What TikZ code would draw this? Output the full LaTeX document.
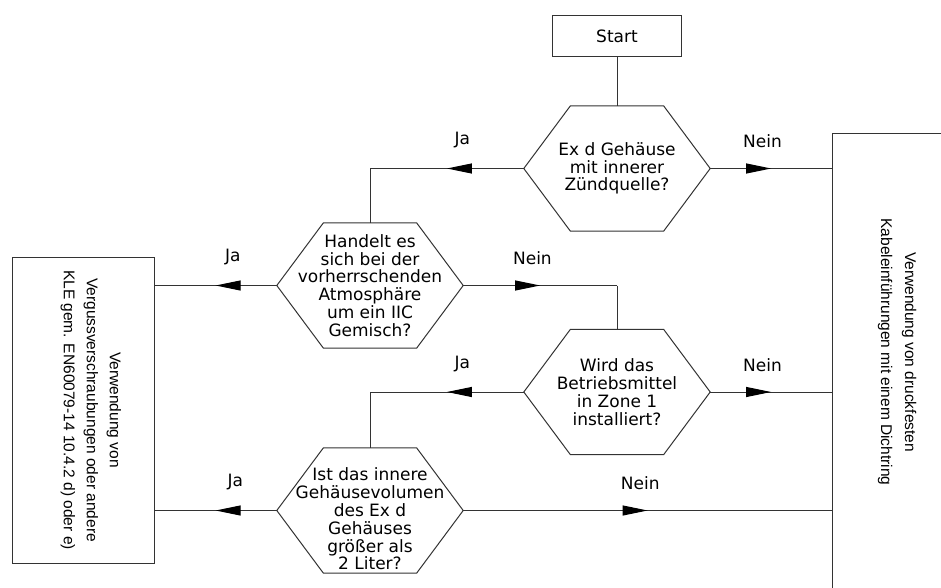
\documentclass[tikz,border=0pt]{standalone}
\usepackage{fontspec}
\setmainfont{DejaVu Sans}
\newfontfamily\boxfont{Liberation Sans}
\usetikzlibrary{calc,arrows.meta,decorations.markings}

\tikzset{
  flowline/.style={draw=black!80, line width=1pt},
  midtip/.style={postaction={decorate}, decoration={markings,
      mark=at position 0.5 with {\arrow{Triangle[length=25pt,width=10pt,color=black]}}}},
  box/.style={draw=black!80, line width=1pt, inner sep=0pt},
  decision/.style={minimum width=186pt, minimum height=125pt, inner sep=0pt, align=center,
      font=\fontsize{17}{17.8}\selectfont},
  boxtext/.style={rotate=-90, align=center, inner sep=0pt},
  answer/.style={above=20pt, inner sep=0pt, font=\fontsize{17}{17.8}\selectfont}
}

% hexagon round a decision node
\newcommand{\hexframe}[1]{%
  \draw[flowline] (#1.west) -- ($(#1.north west)!0.25!(#1.north east)$)
    -- ($(#1.north west)!0.75!(#1.north east)$) -- (#1.east)
    -- ($(#1.south west)!0.75!(#1.south east)$)
    -- ($(#1.south west)!0.25!(#1.south east)$) -- cycle;}

\begin{document}
\begin{tikzpicture}[x=1pt,y=-1pt]
  \useasboundingbox (0,0) rectangle (941,588);
  \clip (0,0) rectangle (941,588);
  \fill[white] (0,0) rectangle (941,588);

  \node[box, minimum width=129pt, minimum height=41pt, font=\fontsize{17}{17.8}\selectfont] (start) at (617,36.5) {Start};

  \node[decision] (q1) at (617,168.5) {Ex d Gehäuse\\mit innerer\\Zündquelle?};
  \node[decision] (q2) at (370,285.5) {Handelt es\\sich bei der\\vorherrschenden\\Atmosphäre\\um ein IIC\\Gemisch?};
  \node[decision] (q3) at (617,392) {Wird das\\Betriebsmittel\\in Zone 1\\installiert?};
  \node[decision] (q4) at (370,510.5) {\rule{0pt}{30pt}Ist das innere\\Gehäusevolumen\\des Ex d\\Gehäuses\\größer als\\2 Liter?};
  \hexframe{q1}
  \hexframe{q2}
  \hexframe{q3}
  \hexframe{q4}

  \node[box, minimum width=142pt, minimum height=306pt] (lbox) at (83,410) {};
  \node[boxtext, font=\boxfont\fontsize{15.5}{23}\selectfont] (ltext) at (91,410) {Verwendung von\\Vergussverschraubungen oder andere\\KLE gem. EN60079-14 10.4.2 d) oder e)};
  \node[box, minimum width=130pt, minimum height=480pt, anchor=north west] (rbox) at (832,133) {};
  \node[boxtext, font=\boxfont\fontsize{15.5}{24}\selectfont] (rtext) at (897,352) {Verwendung von druckfesten\\Kabeleinführungen mit einem Dichtring};

  \coordinate (turnA) at (q2.north |- q1.west);
  \coordinate (turnB) at (q3.north |- q2.east);
  \coordinate (turnC) at (q4.north |- q3.west);

  \draw[flowline] (start.south) -- (q1.north);
  \draw[flowline, midtip] (q1.west) -- node[answer, pos=0.4] {Ja} (turnA);
  \draw[flowline] (turnA) -- (q2.north);
  \draw[flowline, midtip] (q1.east) -- node[answer, pos=0.43] {Nein} (q1.east -| rbox.west);
  \draw[flowline, midtip] (q2.west) -- node[answer, pos=0.36] {Ja} (q2.west -| lbox.east);
  \draw[flowline, midtip] (q2.east) -- node[answer, pos=0.45] {Nein} (turnB);
  \draw[flowline] (turnB) -- (q3.north);
  \draw[flowline, midtip] (q3.west) -- node[answer, pos=0.4] {Ja} (turnC);
  \draw[flowline] (turnC) -- (q4.north);
  \draw[flowline, midtip] (q3.east) -- node[answer, pos=0.43] {Nein} (q3.east -| rbox.west);
  \draw[flowline, midtip] (q4.west) -- node[answer, pos=0.34] {Ja} (q4.west -| lbox.east);
  \draw[flowline, midtip] (q4.east) -- node[answer, pos=0.48] {Nein} (q4.east -| rbox.west);
\end{tikzpicture}
\end{document}
